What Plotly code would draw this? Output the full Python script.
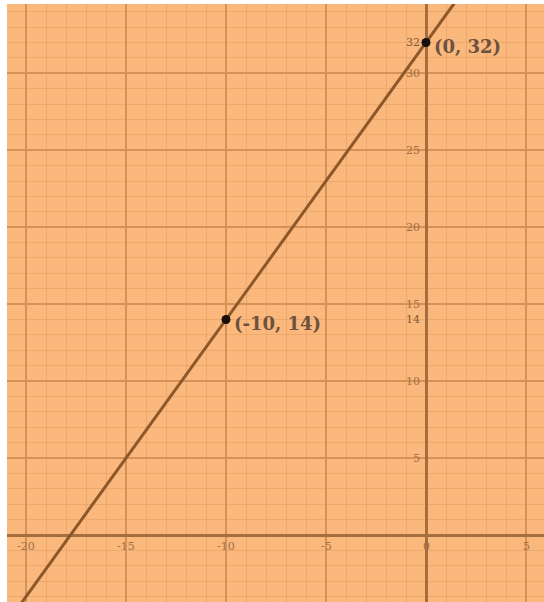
import plotly.graph_objects as go

# points marked on the graph
point_x = [-10, 0]
point_y = [14, 32]
point_labels = ["(-10, 14)", "(0, 32)"]

# line through the points, extended past the edges
line_x = [-23, 2]
line_y = [-9.4, 35.6]

# axis tick labels drawn next to the axes
x_ticks = [-20, -15, -10, -5, 0, 5]
y_ticks = [5, 10, 15, 20, 25, 30]
y_extra = [14, 32]

bg = "rgb(250,184,124)"
major = "rgb(214,146,86)"
minor = "rgb(238,168,108)"
axis_col = "rgb(165,110,62)"
label_col = "rgb(160,112,70)"

fig = go.Figure()

fig.add_trace(go.Scatter(x=line_x, y=line_y, mode="lines",
                         line=dict(color="rgb(140,88,42)", width=3),
                         hoverinfo="skip"))
fig.add_trace(go.Scatter(x=point_x, y=point_y, mode="markers",
                         marker=dict(color="rgb(20,15,10)", size=9)))

for x, y, t in zip(point_x, point_y, point_labels):
    fig.add_annotation(x=x, y=y, text="<b>" + t + "</b>", showarrow=False,
                       xanchor="left", yanchor="middle", xshift=6, yshift=-4,
                       font=dict(family="DejaVu Serif", size=18, color="rgb(108,82,62)"))

for v in x_ticks:
    fig.add_annotation(x=v, y=0, text=str(v), showarrow=False,
                       xanchor="center", yanchor="top", yshift=-3,
                       font=dict(family="DejaVu Serif", size=11, color=label_col))
for v in y_ticks:
    fig.add_annotation(x=0, y=v, text=str(v), showarrow=False,
                       xanchor="right", yanchor="middle", xshift=-4,
                       font=dict(family="DejaVu Serif", size=11, color=label_col))
for v in y_extra:
    fig.add_annotation(x=0, y=v, text=str(v), showarrow=False,
                       xanchor="right", yanchor="middle", xshift=-4,
                       font=dict(family="DejaVu Serif", size=11, color="rgb(125,88,58)"))

# caption above the graph, cut off by the top edge as in the source picture
fig.add_annotation(xref="paper", yref="paper", x=0.0, y=1.0, yshift=1,
                   text="(0, 32), (-10, 14)", showarrow=False,
                   xanchor="left", yanchor="bottom",
                   font=dict(family="DejaVu Serif", size=15, color="black"))

fig.update_xaxes(range=[-20.95, 5.9], showticklabels=False, ticks="",
                 dtick=5, tick0=0, showgrid=True, gridcolor=major, gridwidth=1.5,
                 minor=dict(dtick=1, tick0=0, showgrid=True, gridcolor=minor, gridwidth=1),
                 zeroline=True, zerolinecolor=axis_col, zerolinewidth=2.5)
fig.update_yaxes(range=[-4.35, 34.5], showticklabels=False, ticks="",
                 dtick=5, tick0=0, showgrid=True, gridcolor=major, gridwidth=1.5,
                 minor=dict(dtick=1, tick0=0, showgrid=True, gridcolor=minor, gridwidth=1),
                 zeroline=True, zerolinecolor=axis_col, zerolinewidth=2.5)

fig.update_layout(width=544, height=602, showlegend=False,
                  margin=dict(l=7, r=0, t=4, b=0),
                  paper_bgcolor="white", plot_bgcolor=bg)

fig.write_html("out.html", config={"displayModeBar": False},
               post_script="document.body.style.margin='0';")
